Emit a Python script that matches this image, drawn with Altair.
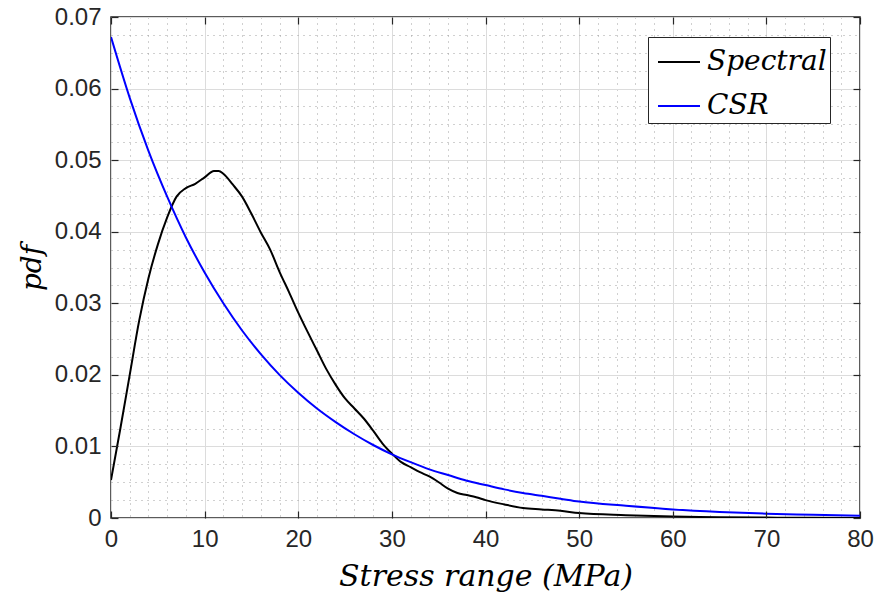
import altair as alt
import pandas as pd

# Spectral pdf
x_spec = [0, 1, 2, 3, 4, 5, 6, 7, 8, 9, 10, 11, 11.5, 12, 13, 14, 15, 16, 17, 18, 19, 20,
          21, 22, 23, 24, 25, 26, 27, 28, 29, 30, 31, 32, 33, 34, 35, 36, 37, 38, 39, 40,
          42, 44, 46, 48, 50, 55, 60, 65, 70, 75, 80]
y_spec = [0.0053, 0.0125, 0.0200, 0.0275, 0.0335, 0.0382, 0.0420, 0.0449, 0.0461, 0.0467,
          0.0476, 0.0485, 0.0485, 0.0481, 0.0466, 0.0449, 0.0425, 0.0399, 0.0375, 0.0344,
          0.0316, 0.0287, 0.0260, 0.0234, 0.0208, 0.0186, 0.0167, 0.0153, 0.0139, 0.0122,
          0.0104, 0.0090, 0.0078, 0.0071, 0.0064, 0.0058, 0.0050, 0.0041, 0.0035, 0.0032,
          0.0029, 0.0025, 0.0019, 0.0014, 0.0012, 0.0010, 0.0007, 0.0004, 0.0002, 0.00012,
          0.00006, 0.00003, 0.00001]

# CSR pdf
x_csr = [0, 2, 4, 6, 8, 10, 12, 14, 16, 18, 20, 22, 24, 26, 28, 30, 32, 34, 36, 38, 40,
         42, 44, 46, 48, 50, 55, 60, 65, 70, 75, 80]
y_csr = [0.0672, 0.0587, 0.0513, 0.0449, 0.0392, 0.0343, 0.0300, 0.0262, 0.0229, 0.0200,
         0.0175, 0.0153, 0.0134, 0.0117, 0.0102, 0.0089, 0.0078, 0.0068, 0.0060, 0.0052,
         0.0046, 0.0040, 0.0035, 0.0031, 0.0027, 0.0023, 0.0017, 0.0012, 0.00085, 0.0006,
         0.00044, 0.0003]

series_names = ["Spectral", "CSR"]
series_colors = ["#000000", "#0000ff"]

x_major = [0, 10, 20, 30, 40, 50, 60, 70, 80]
x_minor = [v for v in range(0, 81, 2) if v % 10 != 0]
y_major = [0, 0.01, 0.02, 0.03, 0.04, 0.05, 0.06, 0.07]
y_minor = [round(i * 0.0025, 4) for i in range(0, 29) if i % 4 != 0]

df = pd.concat([
    pd.DataFrame({"x": x_spec, "y": y_spec, "s": "Spectral", "o": range(len(x_spec))}),
    pd.DataFrame({"x": x_csr, "y": y_csr, "s": "CSR", "o": range(len(x_csr))}),
])

xs = alt.Scale(domain=[0, 80], nice=False, zero=False)
ys = alt.Scale(domain=[0, 0.07], nice=False, zero=False)

LBL = dict(labelFont="Liberation Sans", labelFontSize=24, labelColor="#262626")
TTL = dict(titleFont="DejaVu Serif", titleFontStyle="italic",
           titleFontWeight="normal", titleColor="#000000")

base = alt.Chart(df)

lines = base.mark_line(strokeWidth=2, clip=True, interpolate="monotone").encode(
    x=alt.X("x:Q", scale=xs, title="Stress range (MPa)",
            axis=alt.Axis(orient="bottom", values=x_major, grid=True, gridColor="#dcdcdc",
                          gridWidth=1, ticks=False, domain=False, labelPadding=9,
                          titlePadding=10, titleFontSize=30, labelFlush=False, zindex=0,
                          **LBL, **TTL)),
    y=alt.Y("y:Q", scale=ys, title="pdf",
            axis=alt.Axis(orient="left", values=y_major, grid=True, gridColor="#dcdcdc",
                          gridWidth=1, ticks=False, domain=False, labelPadding=10,
                          titlePadding=8, titleFontSize=28, format=".2~f",
                          labelFlush=False, zindex=0, **LBL, **TTL)),
    color=alt.Color("s:N", scale=alt.Scale(domain=series_names, range=series_colors),
                    legend=alt.Legend(title=None, orient="none", legendX=537, legendY=20,
                                      symbolType="stroke", symbolSize=1764,
                                      symbolStrokeWidth=2, labelFont="DejaVu Serif",
                                      labelFontSize=28, labelFontStyle="italic",
                                      labelColor="#000000", fillColor="#ffffff",
                                      strokeColor="#262626", padding=3, rowPadding=8,
                                      labelOffset=6, symbolOffset=6)),
    order="o:Q",
)

minor = base.mark_line(opacity=0).encode(
    x=alt.X("x:Q", scale=xs, title=None,
            axis=alt.Axis(orient="bottom", values=x_minor, grid=True, gridColor="#a0a0a0",
                          gridDash=[1, 5], gridWidth=1, ticks=False, labels=False,
                          domain=False, zindex=0)),
    y=alt.Y("y:Q", scale=ys, title=None,
            axis=alt.Axis(orient="left", values=y_minor, grid=True, gridColor="#a0a0a0",
                          gridDash=[1, 5], gridWidth=1, ticks=False, labels=False,
                          domain=False, zindex=0)),
)

TK = dict(grid=False, labels=False, domain=False, ticks=True, tickSize=7, tickWidth=1.2,
          tickColor="#262626", zindex=2)

ticks_bl = base.mark_line(opacity=0).encode(
    x=alt.X("x:Q", scale=xs, title=None,
            axis=alt.Axis(orient="bottom", values=x_major, offset=-7, **TK)),
    y=alt.Y("y:Q", scale=ys, title=None,
            axis=alt.Axis(orient="left", values=y_major, offset=-7, **TK)),
)
ticks_tr = base.mark_line(opacity=0).encode(
    x=alt.X("x:Q", scale=xs, title=None,
            axis=alt.Axis(orient="top", values=x_major, offset=-7, **TK)),
    y=alt.Y("y:Q", scale=ys, title=None,
            axis=alt.Axis(orient="right", values=y_major, offset=-7, **TK)),
)

chart = alt.layer(minor, lines, ticks_bl, ticks_tr).resolve_axis(
    x="independent", y="independent"
).properties(
    width=749, height=501,
    autosize=alt.AutoSizeParams(type="none"),
    padding={"left": 111, "top": 17, "right": 14, "bottom": 79},
    background="#ffffff",
).configure_view(stroke="#262626", strokeWidth=1.5)

chart.save("out.html", embed_options={"renderer": "svg", "actions": False})
